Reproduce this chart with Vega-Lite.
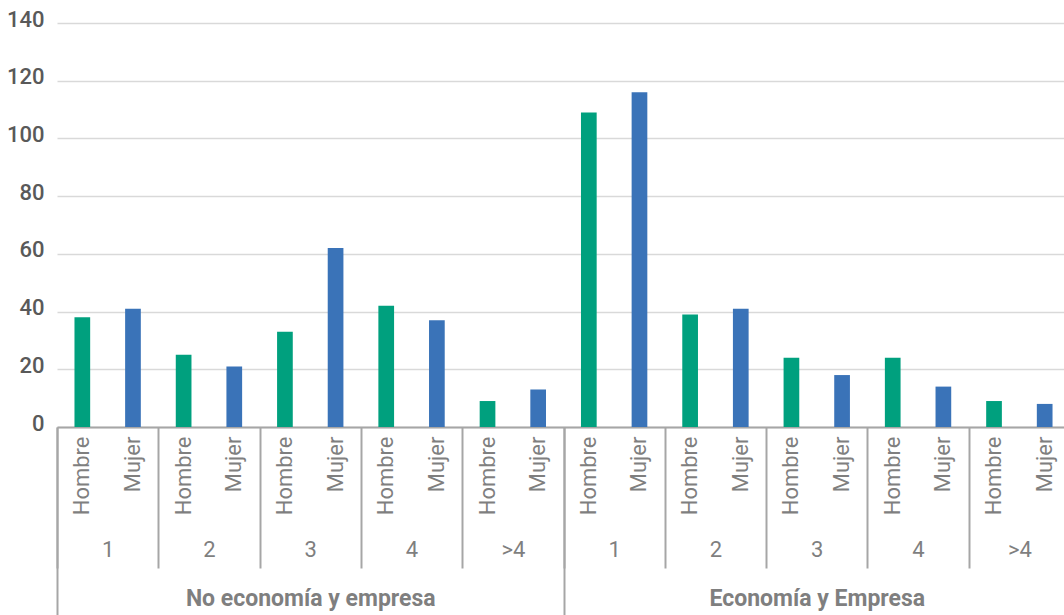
{
  "$schema": "https://vega.github.io/schema/vega-lite/v6.json",
  "autosize": {"type": "none"},
  "padding": {"left": 57, "top": 23, "right": 0, "bottom": 188},
  "width": 1013,
  "height": 404,
  "config": {
    "font": "Roboto",
    "view": {"stroke": null},
    "axis": {"labelFont": "Roboto", "titleFont": "Roboto"}
  },
  "data": {
    "values": [
      {"grupo": "No economía y empresa", "tramo": "1", "sexo": "Hombre", "valor": 38, "par": "No economía y empresa|1", "barra": "No economía y empresa|1|Hombre"},
      {"grupo": "No economía y empresa", "tramo": "1", "sexo": "Mujer", "valor": 41, "par": "No economía y empresa|1", "barra": "No economía y empresa|1|Mujer"},
      {"grupo": "No economía y empresa", "tramo": "2", "sexo": "Hombre", "valor": 25, "par": "No economía y empresa|2", "barra": "No economía y empresa|2|Hombre"},
      {"grupo": "No economía y empresa", "tramo": "2", "sexo": "Mujer", "valor": 21, "par": "No economía y empresa|2", "barra": "No economía y empresa|2|Mujer"},
      {"grupo": "No economía y empresa", "tramo": "3", "sexo": "Hombre", "valor": 33, "par": "No economía y empresa|3", "barra": "No economía y empresa|3|Hombre"},
      {"grupo": "No economía y empresa", "tramo": "3", "sexo": "Mujer", "valor": 62, "par": "No economía y empresa|3", "barra": "No economía y empresa|3|Mujer"},
      {"grupo": "No economía y empresa", "tramo": "4", "sexo": "Hombre", "valor": 42, "par": "No economía y empresa|4", "barra": "No economía y empresa|4|Hombre"},
      {"grupo": "No economía y empresa", "tramo": "4", "sexo": "Mujer", "valor": 37, "par": "No economía y empresa|4", "barra": "No economía y empresa|4|Mujer"},
      {"grupo": "No economía y empresa", "tramo": ">4", "sexo": "Hombre", "valor": 9, "par": "No economía y empresa|>4", "barra": "No economía y empresa|>4|Hombre"},
      {"grupo": "No economía y empresa", "tramo": ">4", "sexo": "Mujer", "valor": 13, "par": "No economía y empresa|>4", "barra": "No economía y empresa|>4|Mujer"},
      {"grupo": "Economía y Empresa", "tramo": "1", "sexo": "Hombre", "valor": 109, "par": "Economía y Empresa|1", "barra": "Economía y Empresa|1|Hombre"},
      {"grupo": "Economía y Empresa", "tramo": "1", "sexo": "Mujer", "valor": 116, "par": "Economía y Empresa|1", "barra": "Economía y Empresa|1|Mujer"},
      {"grupo": "Economía y Empresa", "tramo": "2", "sexo": "Hombre", "valor": 39, "par": "Economía y Empresa|2", "barra": "Economía y Empresa|2|Hombre"},
      {"grupo": "Economía y Empresa", "tramo": "2", "sexo": "Mujer", "valor": 41, "par": "Economía y Empresa|2", "barra": "Economía y Empresa|2|Mujer"},
      {"grupo": "Economía y Empresa", "tramo": "3", "sexo": "Hombre", "valor": 24, "par": "Economía y Empresa|3", "barra": "Economía y Empresa|3|Hombre"},
      {"grupo": "Economía y Empresa", "tramo": "3", "sexo": "Mujer", "valor": 18, "par": "Economía y Empresa|3", "barra": "Economía y Empresa|3|Mujer"},
      {"grupo": "Economía y Empresa", "tramo": "4", "sexo": "Hombre", "valor": 24, "par": "Economía y Empresa|4", "barra": "Economía y Empresa|4|Hombre"},
      {"grupo": "Economía y Empresa", "tramo": "4", "sexo": "Mujer", "valor": 14, "par": "Economía y Empresa|4", "barra": "Economía y Empresa|4|Mujer"},
      {"grupo": "Economía y Empresa", "tramo": ">4", "sexo": "Hombre", "valor": 9, "par": "Economía y Empresa|>4", "barra": "Economía y Empresa|>4|Hombre"},
      {"grupo": "Economía y Empresa", "tramo": ">4", "sexo": "Mujer", "valor": 8, "par": "Economía y Empresa|>4", "barra": "Economía y Empresa|>4|Mujer"}
    ]
  },
  "encoding": {
    "y": {
      "field": "valor",
      "type": "quantitative",
      "scale": {"domain": [0, 140], "nice": false},
      "axis": {
        "title": null,
        "values": [0, 20, 40, 60, 80, 100, 120, 140],
        "labelFontSize": 22,
        "labelFontWeight": 500,
        "labelColor": "#595959",
        "labelPadding": 13,
        "labelOffset": -4,
        "ticks": false,
        "domain": false,
        "grid": true,
        "gridColor": "#d9d9d9",
        "gridWidth": 1.5
      }
    }
  },
  "layer": [
    {
      "mark": {"type": "bar"},
      "encoding": {
        "x": {
          "field": "barra",
          "type": "nominal",
          "sort": null,
          "scale": {"paddingInner": 0.69, "paddingOuter": 0.345},
          "axis": {
            "orient": "bottom",
            "title": null,
            "labelExpr": "split(datum.value, '|')[2]",
            "labelAngle": 270,
            "labelAlign": "right",
            "labelBaseline": "middle",
            "labelPadding": 9,
            "labelFontSize": 22,
            "labelColor": "#7f7f7f",
            "labelLimit": 0,
            "ticks": false,
            "domain": true,
            "domainColor": "#a6a6a6",
            "domainWidth": 2,
            "grid": false
          }
        },
        "color": {
          "field": "sexo",
          "type": "nominal",
          "scale": {"domain": ["Hombre", "Mujer"], "range": ["#00A07E", "#3A73B8"]},
          "legend": null
        }
      }
    },
    {
      "mark": {"type": "bar", "opacity": 0},
      "encoding": {
        "x": {
          "field": "par",
          "type": "nominal",
          "sort": null,
          "scale": {"paddingInner": 0, "paddingOuter": 0},
          "axis": {
            "orient": "bottom",
            "title": null,
            "domain": false,
            "grid": false,
            "ticks": true,
            "tickBand": "extent",
            "tickSize": 141,
            "tickColor": "#a6a6a6",
            "tickWidth": 2,
            "labelExpr": "split(datum.value, '|')[1]",
            "labelAngle": 0,
            "labelAlign": "center",
            "labelBaseline": "top",
            "labelPadding": -29,
            "labelFontSize": 22,
            "labelColor": "#7f7f7f",
            "labelLimit": 0
          }
        }
      }
    },
    {
      "mark": {"type": "bar", "opacity": 0},
      "encoding": {
        "x": {
          "field": "grupo",
          "type": "nominal",
          "sort": null,
          "scale": {"paddingInner": 0, "paddingOuter": 0},
          "axis": {
            "orient": "bottom",
            "title": null,
            "domain": false,
            "grid": false,
            "ticks": true,
            "tickBand": "extent",
            "tickSize": 188,
            "tickColor": "#a6a6a6",
            "tickWidth": 2,
            "labelAngle": 0,
            "labelAlign": "center",
            "labelBaseline": "top",
            "labelPadding": -28,
            "labelFontSize": 23,
            "labelFontWeight": "bold",
            "labelColor": "#7f7f7f",
            "labelLimit": 0,
            "labelOverlap": false
          }
        }
      }
    }
  ],
  "resolve": {"scale": {"x": "independent"}, "axis": {"x": "independent"}}
}
